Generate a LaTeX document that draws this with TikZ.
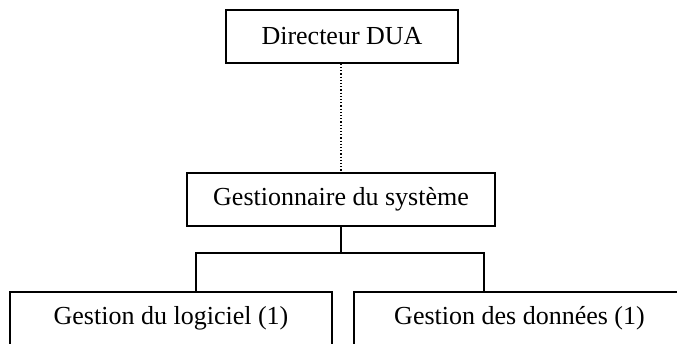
\documentclass[tikz,border=0pt]{standalone}
\usepackage{fontspec}
\setmainfont{Liberation Serif}
\usepackage{tikz}
\usetikzlibrary{positioning,calc}

\begin{document}
\begin{tikzpicture}[x=1pt,y=-1pt,
    box/.style={draw, line width=1.6pt, minimum height=53pt, inner sep=0pt, font=\fontsize{26}{30}\selectfont},
    link/.style={line width=1.6pt}]
  \useasboundingbox (0,0) rectangle (677,343);
  \clip (0,0) rectangle (677,343);

  \node[box, minimum width=232pt] (directeur) at (342,36.5) {Directeur DUA};
  \node[box, minimum width=308pt] (gestionnaire) at (341,199.5) {Gestionnaire du syst\`eme};

  \node[box, minimum width=322pt] (logiciel) at (171,318.5) {Gestion du logiciel (1)};
  \node[box, minimum width=331pt] (donnees) at (519.5,318.5) {Gestion des donn\'ees (1)};

  \coordinate (barL) at (196,253);
  \coordinate (barR) at (484,253);

  \draw[dotted, line width=1.2pt] (directeur.south -| gestionnaire.north) -- (gestionnaire.north);
  \draw[link] (gestionnaire.south) -- (gestionnaire.south |- barL);
  \draw[link] (logiciel.north -| barL) -- (barL) -- (barR) -- (donnees.north -| barR);
\end{tikzpicture}
\end{document}
